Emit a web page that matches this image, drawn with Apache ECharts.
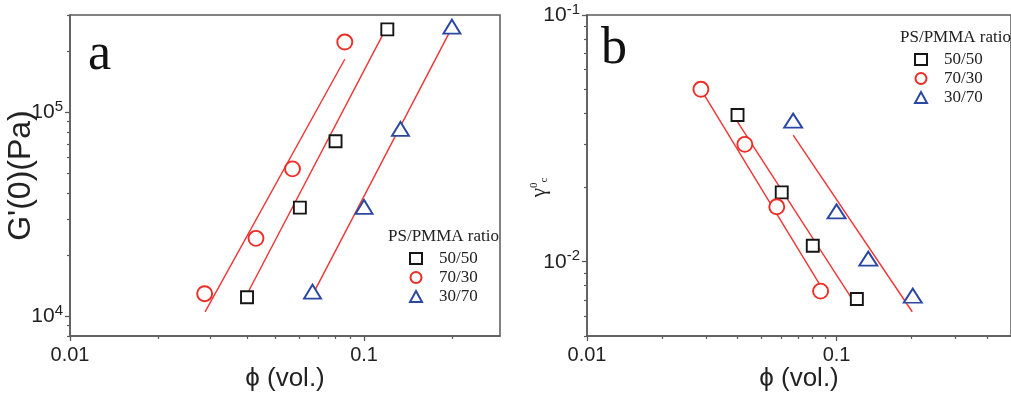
<!DOCTYPE html>
<html lang="en">
<head>
    <meta charset="utf-8">
    <title>G'(0) and critical strain vs phi</title>
    <script src="https://cdn.jsdelivr.net/npm/echarts@6.0.0/dist/echarts.min.js"></script>
    <style>
        html, body { margin: 0; padding: 0; background: #fff; }
        #main { width: 1011px; height: 399px; }
    </style>
</head>
<body>

<div id="main"></div>

<script>
    // ---- panel a : G'(0) vs phi ----
    var phiA5050 = [0.040, 0.0605, 0.080, 0.120];
    var gA5050 = [12400, 34100, 72100, 255000];
    var phiA7030 = [0.0287, 0.0429, 0.0571, 0.086];
    var gA7030 = [12900, 24100, 52800, 221000];
    var phiA3070 = [0.0668, 0.100, 0.133, 0.199];
    var gA3070 = [13200, 34400, 83000, 263000];
    // fitted lines (end points)
    var fitPhiA7030 = [0.0288, 0.086];
    var fitGA7030 = [10500, 182000];
    var fitPhiA5050 = [0.0402, 0.118];
    var fitGA5050 = [13000, 253000];
    var fitPhiA3070 = [0.0677, 0.197];
    var fitGA3070 = [13200, 253000];

    // ---- panel b : critical strain vs phi ----
    var phiB5050 = [0.0401, 0.0603, 0.0803, 0.1206];
    var gamB5050 = [0.0393, 0.0191, 0.0116, 0.00706];
    var phiB7030 = [0.0286, 0.0429, 0.0576, 0.0863];
    var gamB7030 = [0.050, 0.0299, 0.0167, 0.0076];
    var phiB3070 = [0.067, 0.100, 0.134, 0.202];
    var gamB3070 = [0.0373, 0.0160, 0.0103, 0.00728];
    var fitPhiB7030 = [0.0286, 0.0858];
    var fitGamB7030 = [0.050, 0.00805];
    var fitPhiB5050 = [0.0401, 0.1195];
    var fitGamB5050 = [0.0369, 0.00668];
    var fitPhiB3070 = [0.067, 0.201];
    var fitGamB3070 = [0.0326, 0.00627];

    // ticks
    var xMajorTicks = [0.01, 0.1];
    var xMinorTicks = [0.02, 0.03, 0.04, 0.05, 0.06, 0.07, 0.08, 0.09, 0.2, 0.3, 0.4];
    var yMajorTicksA = [10000, 100000];
    var yMinorTicksA = [8000, 9000, 20000, 30000, 40000, 50000, 60000, 70000, 80000, 90000, 200000, 300000];
    var yMajorTicksB = [0.01, 0.1];
    var yMinorTicksB = [0.005, 0.006, 0.007, 0.008, 0.009, 0.02, 0.03, 0.04, 0.05, 0.06, 0.07, 0.08, 0.09];

    var seriesNames = ['50/50', '70/30', '30/70'];

    var BLACK = '#151515', RED = '#ee2b25', BLUE = '#2a48a2', FIT = '#f03434', AXIS = '#5a5a5a';
    var SANS = 'Liberation Sans', SERIF = 'Liberation Serif';

    function zip(xs, ys) {
        return xs.map(function (x, i) { return [x, ys[i]]; });
    }

    function powLabel(v) {
        var e = Math.round(Math.log(v) / Math.LN10);
        return '10{sup|' + e + '}';
    }

    function mainX(grid, max) {
        return {
            type: 'log', gridIndex: grid, position: 'bottom', min: 0.01, max: max,
            name: 'ϕ (vol.)', nameLocation: 'middle', nameGap: 30, nameMoveOverlap: false,
            nameTextStyle: {fontFamily: SANS, fontSize: 26, color: '#222'},
            axisLine: {show: true, onZero: false, lineStyle: {color: AXIS, width: 1.5}},
            axisTick: {show: true, customValues: xMajorTicks, length: 5, lineStyle: {color: AXIS, width: 1.3}},
            axisLabel: {
                customValues: xMajorTicks, margin: 9, fontFamily: SANS, fontSize: 20, color: '#222',
                formatter: function (v) { return String(v); }
            },
            splitLine: {show: false}
        };
    }

    function minorX(grid, max) {
        return {
            type: 'log', gridIndex: grid, position: 'bottom', min: 0.01, max: max,
            axisLine: {show: false, onZero: false},
            axisTick: {show: true, customValues: xMinorTicks, length: 3, lineStyle: {color: AXIS, width: 1.2}},
            axisLabel: {show: false},
            splitLine: {show: false}
        };
    }

    function mainY(grid, min, max, majors, name, nameGap, nameStyle) {
        return {
            type: 'log', gridIndex: grid, position: 'left', min: min, max: max,
            name: name, nameLocation: 'middle', nameGap: nameGap, nameRotate: 90, nameMoveOverlap: false,
            nameTextStyle: nameStyle,
            axisLine: {show: true, onZero: false, lineStyle: {color: AXIS, width: 1.5}},
            axisTick: {show: true, customValues: majors, length: 5, lineStyle: {color: AXIS, width: 1.3}},
            axisLabel: {
                customValues: majors, margin: 7, color: '#222',
                formatter: powLabel,
                rich: {
                    sup: {fontFamily: SANS, fontSize: 15, color: '#222', verticalAlign: 'top', lineHeight: 16}
                },
                fontFamily: SANS, fontSize: 21, lineHeight: 26
            },
            splitLine: {show: false}
        };
    }

    function minorY(grid, min, max, minors) {
        return {
            type: 'log', gridIndex: grid, position: 'left', min: min, max: max,
            axisLine: {show: false, onZero: false},
            axisTick: {show: true, customValues: minors, length: 3, lineStyle: {color: AXIS, width: 1.2}},
            axisLabel: {show: false},
            splitLine: {show: false}
        };
    }

    function scatter(name, data, axis, symbol, size, color) {
        return {
            name: name, type: 'scatter', xAxisIndex: axis, yAxisIndex: axis, z: 5,
            symbol: symbol, symbolSize: size, data: data,
            itemStyle: {color: '#fff', borderColor: color, borderWidth: 1.9, opacity: 1}
        };
    }

    function fitLine(data, axis) {
        return {
            name: 'fit', type: 'line', xAxisIndex: axis, yAxisIndex: axis, z: 3,
            symbol: 'none', silent: true, data: data,
            lineStyle: {color: FIT, width: 1.4}
        };
    }

    function legendFor(left, top) {
        return {
            orient: 'vertical', left: left, top: top, padding: 0,
            itemWidth: 12, itemHeight: 11, itemGap: 2, selectedMode: false,
            textStyle: {fontFamily: SERIF, fontSize: 17, color: '#222', padding: [0, 0, 0, 12]},
            data: [
                {name: '50/50', icon: 'rect', itemStyle: {color: '#fff', borderColor: BLACK, borderWidth: 2}},
                {name: '70/30', icon: 'circle', itemStyle: {color: '#fff', borderColor: RED, borderWidth: 2}},
                {name: '30/70', icon: 'triangle', itemStyle: {color: '#fff', borderColor: BLUE, borderWidth: 2}}
            ]
        };
    }

    var myChart = echarts.init(document.getElementById('main'));

    var option = {
        backgroundColor: '#fff',
        animation: false,
        title: [
            {text: 'a', left: 88, top: 29, padding: 0, textStyle: {fontFamily: SERIF, fontSize: 52, fontWeight: 'normal', color: '#111'}},
            {text: 'b', left: 601, top: 23, padding: 0, textStyle: {fontFamily: SERIF, fontSize: 52, fontWeight: 'normal', color: '#111'}},
            {text: 'PS/PMMA ratio', left: 388, top: 228, padding: 0, textStyle: {fontFamily: SERIF, fontSize: 17, fontWeight: 'normal', color: '#222'}},
            {text: 'PS/PMMA ratio', left: 900, top: 29, padding: 0, textStyle: {fontFamily: SERIF, fontSize: 17, fontWeight: 'normal', color: '#222'}}
        ],
        legend: [legendFor(409, 250), legendFor(914, 51)],
        grid: [
            {left: 70, top: 15, width: 430, height: 321, show: true, borderColor: AXIS, borderWidth: 1.5, backgroundColor: 'transparent'},
            {left: 587, top: 15, width: 433, height: 321, show: true, borderColor: AXIS, borderWidth: 1.5, backgroundColor: 'transparent'}
        ],
        xAxis: [mainX(0, 0.29), minorX(0, 0.29), mainX(1, 0.5), minorX(1, 0.5)],
        yAxis: [
            mainY(0, 8000, 300000, yMajorTicksA, "G'(0)(Pa)", 33,
                {fontFamily: SANS, fontSize: 32, color: '#222'}),
            minorY(0, 8000, 300000, yMinorTicksA),
            mainY(1, 0.005, 0.1, yMajorTicksB, 'γ{s|0}{b|c}', 37,
                {fontFamily: SERIF, fontSize: 21, color: '#222', padding: [0, 24, 0, 0],
                    rich: {s: {fontFamily: SERIF, fontSize: 11, verticalAlign: 'top', lineHeight: 12},
                        b: {fontFamily: SERIF, fontSize: 11, verticalAlign: 'bottom', lineHeight: 12}}}),
            minorY(1, 0.005, 0.1, yMinorTicksB)
        ],
        series: [
            fitLine(zip(fitPhiA7030, fitGA7030), 0),
            fitLine(zip(fitPhiA5050, fitGA5050), 0),
            fitLine(zip(fitPhiA3070, fitGA3070), 0),
            scatter(seriesNames[0], zip(phiA5050, gA5050), 0, 'rect', 12, BLACK),
            scatter(seriesNames[1], zip(phiA7030, gA7030), 0, 'circle', 15, RED),
            scatter(seriesNames[2], zip(phiA3070, gA3070), 0, 'triangle', [17, 14], BLUE),

            fitLine(zip(fitPhiB7030, fitGamB7030), 2),
            fitLine(zip(fitPhiB5050, fitGamB5050), 2),
            fitLine(zip(fitPhiB3070, fitGamB3070), 2),
            scatter(seriesNames[0], zip(phiB5050, gamB5050), 2, 'rect', 12, BLACK),
            scatter(seriesNames[1], zip(phiB7030, gamB7030), 2, 'circle', 15, RED),
            scatter(seriesNames[2], zip(phiB3070, gamB3070), 2, 'triangle', [18, 14], BLUE)
        ]
    };

    myChart.setOption(option);
</script>
</body>
</html>
